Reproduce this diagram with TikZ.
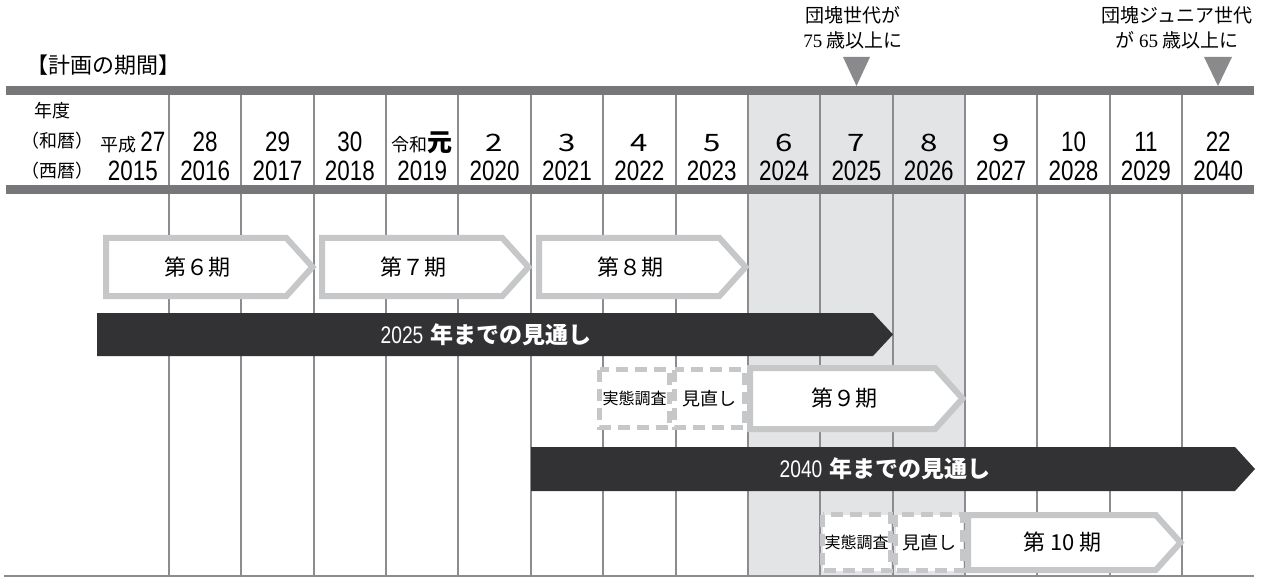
\documentclass[tikz,border=0pt]{standalone}
\usepackage{fontspec}
\usetikzlibrary{shadows}
\newfontfamily\jp{Noto Sans CJK JP}
\newfontfamily\jpwide[FakeStretch=1.3]{Noto Sans CJK JP}
\newfontfamily\cond[FakeStretch=0.8]{Liberation Sans}
\newfontfamily\ser{Liberation Serif}
\definecolor{barGray}{HTML}{77777A}
\definecolor{lineGray}{HTML}{8C8C90}
\definecolor{shadeGray}{HTML}{E3E4E6}
\definecolor{boxGray}{HTML}{C6C7C9}
\definecolor{darkBar}{HTML}{323234}
\definecolor{triGray}{HTML}{8A8A8C}
\newcommand\cn[1]{{\cond\fontsize{28}{30}\selectfont #1}}
\newcommand\gd[1]{{\jpwide\fontsize{24}{28}\selectfont #1}}
\newcommand\hsm[1]{{\jp\fontsize{18}{20}\selectfont #1}}
\tikzset{
  periodarrow/.style={draw=boxGray, line width=6pt, fill=white, line join=miter,
     drop shadow={shadow xshift=2pt, shadow yshift=-2pt, opacity=0.2, fill=black!50}},
  dashedbox/.style={draw=boxGray, line width=5pt, fill=white, dash pattern=on 12pt off 7pt},
  periodtext/.style={font=\jp\fontsize{22}{26}\selectfont, inner sep=0pt},
  boxtext/.style={font=\jp, inner sep=0pt},
  darkbar/.style={fill=darkBar},
  bartext/.style={text=white, inner sep=0pt},
  divider/.style={draw=lineGray, line width=2pt},
  hdr/.style={font=\jp\fontsize{18}{20}\selectfont, inner sep=0pt},
  ann/.style={align=center, inner sep=0pt, font=\jp\fontsize{19}{25}\selectfont},
  tri/.style={fill=triGray},
}
\newcommand\parrow[6]{%
  \pgfmathsetmacro\ym{(#4+#5)/2}%
  \pgfmathsetmacro\tp{#3-4.5}%
  \pgfmathsetmacro\sl{\tp-(#5-#4-6)/2*0.9}%
  \draw[periodarrow] (#2+3,#4+3) -- (\sl,#4+3) -- (\tp,\ym) -- (\sl,#5-3) -- (#2+3,#5-3) -- cycle;
  \node[periodtext] (#1) at ({(#2+#3-25)/2},\ym) {#6};
}
\newcommand\dbox[7]{%
  \draw[dashedbox] (#2+2.5,#4+2.5) rectangle (#3-2.5,#5-2.5);
  \node[boxtext, font=\jp\fontsize{#7}{#7}\selectfont] (#1) at ({(#2+#3)/2},{(#4+#5)/2}) {#6};
}
\begin{document}
\begin{tikzpicture}[x=1pt,y=-1pt]
\useasboundingbox[fill=white] (0,0) rectangle (1268,577);
% shaded columns
\fill[shadeGray] (747.9,95) rectangle (965,577);
% dividers
\foreach \i in {1,...,15}{
  \draw[divider] ({96.64+\i*72.36},95) -- ({96.64+\i*72.36},577);
}
% header bars
\fill[barGray] (6,86) rectangle (1254,95);
\fill[barGray] (6,185) rectangle (1254,194);
\draw[draw=lineGray, line width=1.5pt] (4,576) -- (1254,576);
% title
\node[inner sep=0pt, font=\jp\fontsize{22}{24}\selectfont] (title) at (103,65) {【計画の期間】};
% annotations
\node[ann] (ann1) at (853,28) {団塊世代が\\{\ser 75} 歳以上に};
\node[ann] (ann2) at (1177,28) {団塊ジュニア世代\\が {\ser 65} 歳以上に};
\fill[tri] (843,57) -- (870,57) -- (856.5,86) -- cycle;
\fill[tri] (1204,57) -- (1232,57) -- (1218,86) -- cycle;
% header labels
\node[hdr] (nendo) at (52,111) {年度};
\node[hdr] (wareki) at (57,141) {（和暦）};
\node[hdr] (seireki) at (57,171) {（西暦）};
\foreach \w/\s [count=\i from 0] in {
  {\hsm{平成}\hspace{4pt}\cn{27}}/2015, {\cn{28}}/2016, {\cn{29}}/2017, {\cn{30}}/2018,
  {\hsm{令和}{\jp\bfseries\fontsize{25}{28}\selectfont 元}}/2019,
  {\gd{2}}/2020, {\gd{3}}/2021, {\gd{4}}/2022, {\gd{5}}/2023, {\gd{6}}/2024,
  {\gd{7}}/2025, {\gd{8}}/2026, {\gd{9}}/2027, {\cn{10}}/2028, {\cn{11}}/2029, {\cn{22}}/2040}{
  \node[anchor=base, inner sep=0pt] (w\i) at ({132.82+\i*72.36},152) {\w};
  \node[anchor=base, inner sep=0pt] (s\i) at ({132.82+\i*72.36},181) {\cn{\s}};
}
% row 1: periods 6-8
\parrow{p6}{103}{317}{235}{299}{第６期}
\parrow{p7}{319}{533}{235}{299}{第７期}
\parrow{p8}{536}{750}{235}{299}{第８期}
% 2025 outlook
\fill[darkbar] (97,313) -- (873,313) -- (893,334.5) -- (873,356) -- (97,356) -- cycle;
\node[bartext] (o2025) at (486,334.5) {{\cond\fontsize{24}{26}\selectfont 2025}\hspace{7pt}{\jp\bfseries\fontsize{23}{26}\selectfont 年までの見通し}};
% row 3
\dbox{sv9}{597}{672}{367}{430}{実態調査}{16}
\dbox{mn9}{672}{747}{367}{430}{見直し}{18}
\parrow{p9}{747}{967}{365}{432}{第９期}
% 2040 outlook
\fill[darkbar] (531,447) -- (1235,447) -- (1255,469) -- (1235,491) -- (531,491) -- cycle;
\node[bartext] (o2040) at (885,469) {{\cond\fontsize{24}{26}\selectfont 2040}\hspace{7pt}{\jp\bfseries\fontsize{23}{26}\selectfont 年までの見通し}};
% row 4
\dbox{sv10}{820}{893}{512}{573}{実態調査}{16}
\dbox{mn10}{893}{965}{512}{573}{見直し}{18}
\parrow{p10}{965}{1185}{512}{573}{第 10 期}
\end{tikzpicture}
\end{document}
